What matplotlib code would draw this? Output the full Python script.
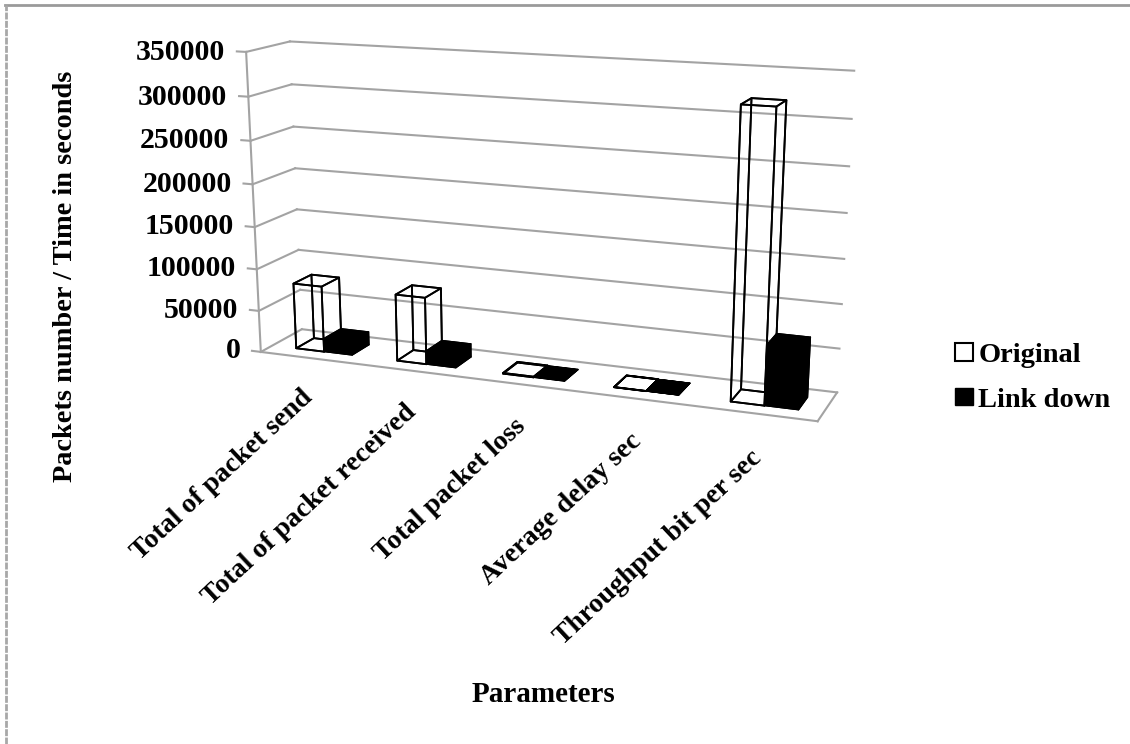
import matplotlib
matplotlib.use("Agg")
import matplotlib.pyplot as plt
from matplotlib.lines import Line2D
from matplotlib.patches import Patch
from mpl_toolkits.mplot3d import proj3d

categories = ['Total of packet send', 'Total of packet received', 'Total packet loss',
              'Average delay sec', 'Throughput bit per sec']
original = [79000, 79000, 800, 200, 320000]
link_down = [16000, 16000, 500, 100, 68000]
z_ticks = [0, 50000, 100000, 150000, 200000, 250000, 300000, 350000]

W, H = 1130, 744
plt.rcParams['font.family'] = ['Liberation Serif', 'DejaVu Serif']
plt.rcParams['font.weight'] = 'bold'

fig = plt.figure(figsize=(W / 100, H / 100), dpi=100)

# camera worked out from the vanishing points of the original
size = 700
left, top = 179, -16.6
ax = fig.add_axes([left / W, (H - top - size) / H, size / W, size / H], projection='3d')
ax.computed_zorder = False
ax.set_xlim(0, 5, view_margin=0)
ax.set_ylim(0, 1, view_margin=0)
ax.set_zlim(-238000, 350000, view_margin=0)
ax.set_box_aspect((1.10, 0.165, 0.981), zoom=1.1)
ax.set_proj_type('persp', focal_length=0.449)
ax.view_init(elev=16.6, azim=-68.8, roll=0)
ax.set_axis_off()


def label_at(x, y, z, text, **kw):
    # Text3D ignores rotation, so place plain text at the projected point
    px, py, _ = proj3d.proj_transform(x, y, z, ax.get_proj())
    ax.text2D(px, py, text, transform=ax.transData, **kw)


grid = '#a3a3a3'
# walls and gridlines
for z in z_ticks:
    ax.plot([0, 5], [1, 1], [z, z], color=grid, lw=1.5, zorder=1)
    ax.plot([0, 0], [0, 1], [z, z], color=grid, lw=1.5, zorder=1)
    ax.plot([-0.09, 0], [0, 0], [z, z], color=grid, lw=1.5, zorder=1)
    label_at(-0.21, 0, z - 2000, str(z), ha='right', va='center', fontsize=21.5)
ax.plot([0, 0], [0, 0], [0, 350000], color=grid, lw=1.5, zorder=1)
ax.plot([0, 5], [0, 0], [0, 0], color=grid, lw=1.5, zorder=1)
ax.plot([5, 5], [0, 1], [0, 0], color=grid, lw=1.5, zorder=1)

# bars
bar_w = 0.28
for i in range(len(categories)):
    ax.bar3d(i + 0.24, 0.28, 0, bar_w, 0.44, original[i], color=(1, 1, 1, 0),
             edgecolor='black', linewidth=1.3, shade=False, zorder=2)
for i in range(len(categories)):
    ax.bar3d(i + 0.24 + bar_w, 0.28, 0, bar_w, 0.44, link_down[i], color='black',
             edgecolor='black', linewidth=0.8, shade=False, zorder=3)

# category labels
for i, name in enumerate(categories):
    label_at(i * 1.018 + 0.465, 0, -45000, name, rotation=43, rotation_mode='anchor',
             ha='right', va='center', fontsize=20)

fig.text(543 / W, 1 - 695 / H, 'Parameters', ha='center', va='center', fontsize=21)
fig.text(66 / W, 1 - 276 / H, 'Packets number / Time in seconds', rotation=90,
         ha='center', va='center', fontsize=20.4)

handles = [Patch(facecolor='white', edgecolor='black', linewidth=1.5, label='Original'),
           Patch(facecolor='black', edgecolor='black', label='Link down')]
fig.legend(handles=handles, loc='center left', bbox_to_anchor=(955 / W, 1 - 378 / H),
           frameon=False, fontsize=20.5, handlelength=0.62, handleheight=0.55,
           handletextpad=0.2, labelspacing=0.7, borderpad=0, borderaxespad=0)

# top and left edge of the pasted chart frame
fig.add_artist(Line2D([5 / W, 1], [1 - 5 / H, 1 - 5 / H], color='#9a9a9a', lw=2))
fig.add_artist(Line2D([6 / W, 6 / W], [0, 1 - 5 / H], color='#a8a8a8', lw=2, ls=(0, (2.5, 0.5))))

fig.savefig('out.png', dpi=100)
